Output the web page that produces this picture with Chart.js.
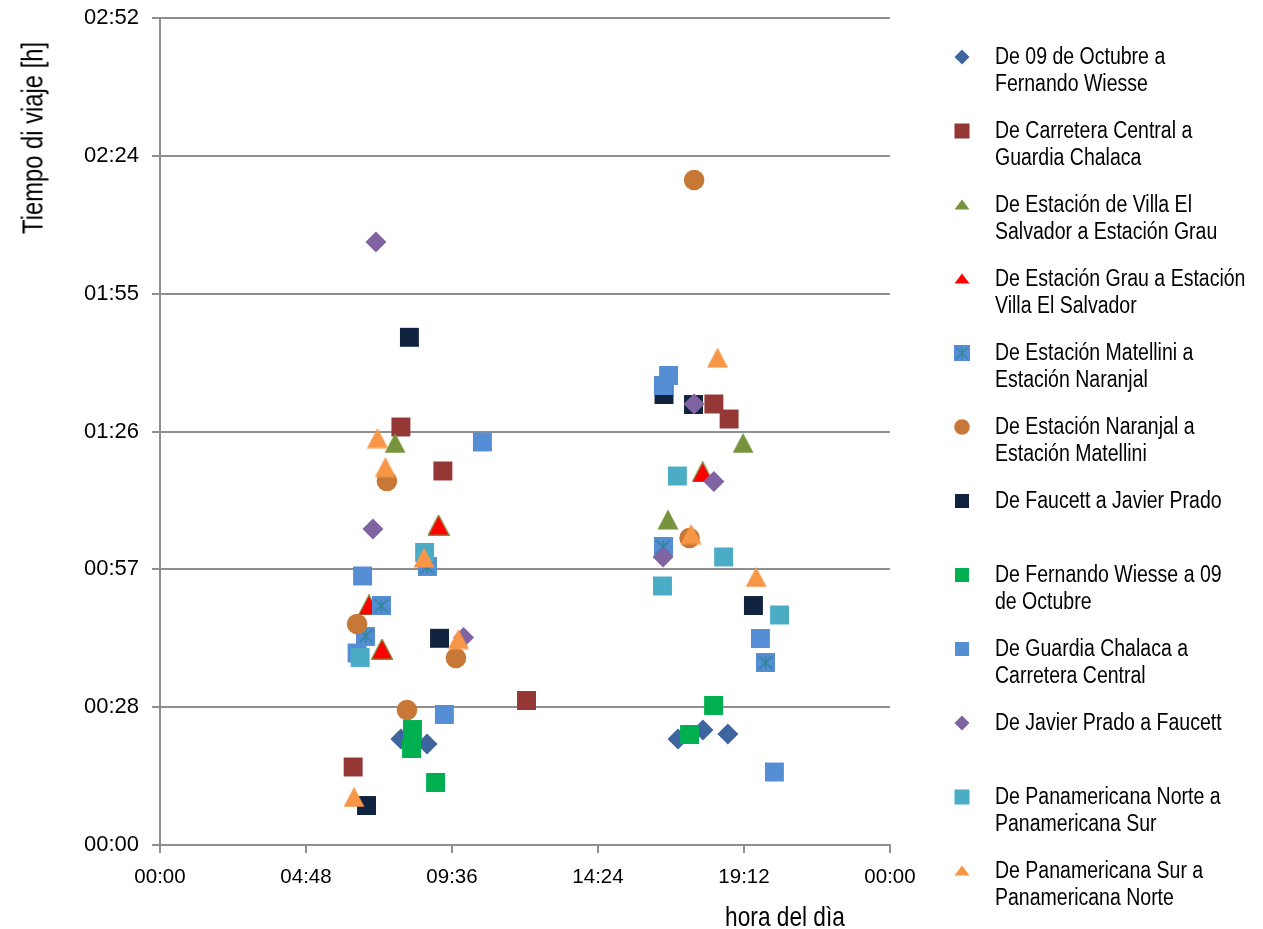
<!DOCTYPE html>
<html>
<head>
<meta charset="utf-8">
<script src="https://cdn.jsdelivr.net/npm/chart.js@4.4.1/dist/chart.umd.min.js"></script>
<style>
html,body{margin:0;padding:0;background:#fff;}
#wrap{position:relative;width:1263px;height:929px;overflow:hidden;background:#fff;}
#chartBox{position:absolute;left:0;top:0;width:1263px;height:929px;}
.anchor{position:absolute;width:0;height:0;}
.anchor span{position:absolute;left:0;top:0;white-space:nowrap;color:#000;
  font-family:"Liberation Sans",Arial,sans-serif;}
#legend .item{position:absolute;left:995px;white-space:pre;color:#000;
  font-family:"Liberation Sans",Arial,sans-serif;
  font-size:23.5px;line-height:27.7px;transform:scaleX(0.83);transform-origin:0 0;}
#legend canvas{position:absolute;}
</style>
</head>
<body>
<div id="wrap">
  <div id="chartBox"><canvas id="c"></canvas></div>
  <div class="anchor" style="left:33px;top:138px;"><span id="ytitle" style="font-size:29px;transform:translate(-50%,-50%) rotate(-90deg) scaleX(0.82);">Tiempo di viaje [h]</span></div>
  <div class="anchor" style="left:785px;top:917px;"><span id="xtitle" style="font-size:28px;transform:translate(-50%,-50%) scaleX(0.81);">hora del dìa</span></div>
  <div id="legend"></div>
</div>
<script>
// ---- DATA (x = time of day in hours, y = travel time in minutes) ----
const seriesNames = [
  "De 09 de Octubre a\nFernando Wiesse",
  "De Carretera Central a\nGuardia Chalaca",
  "De Estación de Villa El\nSalvador a Estación Grau",
  "De Estación Grau a Estación\nVilla El Salvador",
  "De Estación Matellini a\nEstación Naranjal",
  "De Estación Naranjal a\nEstación Matellini",
  "De Faucett a Javier Prado",
  "De Fernando Wiesse a 09\nde Octubre",
  "De Guardia Chalaca a\nCarretera Central",
  "De Javier Prado a Faucett",
  "De Panamericana Norte a\nPanamericana Sur",
  "De Panamericana Sur a\nPanamericana Norte"
];

const octubreFW_x = [7.92, 8.78, 17.03, 17.85, 18.67];
const octubreFW_y = [22.15, 21.10, 22.15, 24.03, 23.19];

const carreteraGC_x = [7.92, 9.30, 12.05, 6.35, 18.21, 18.71];
const carreteraGC_y = [87.34, 78.15, 30.19, 16.30, 92.15, 89.01];

const vesGrau_x = [7.73, 19.17, 16.70];
const vesGrau_y = [84.00, 84.00, 68.01];

const grauVes_x = [9.16, 6.87, 7.30, 17.84];
const grauVes_y = [66.86, 50.15, 40.95, 77.94];

const matelliniNar_x = [8.78, 7.27, 6.77, 16.54, 19.91];
const matelliniNar_y = [58.09, 49.94, 43.67, 62.27, 38.13];

const naranjalMat_x = [7.46, 6.48, 9.73, 8.12, 17.56, 17.41];
const naranjalMat_y = [76.06, 46.18, 39.07, 28.21, 138.95, 64.15];

const faucettJP_x = [8.20, 9.19, 6.79, 16.57, 17.54, 19.51];
const faucettJP_y = [106.08, 43.19, 8.25, 94.13, 92.04, 50.04];

const fernandoOct_x = [8.30, 8.27, 9.06, 18.20, 17.41];
const fernandoOct_y = [24.13, 20.16, 13.06, 29.15, 23.09];

const guardiaCC_x = [10.60, 6.66, 6.48, 9.35, 16.72, 16.55, 19.74, 20.20];
const guardiaCC_y = [84.21, 56.21, 40.12, 27.27, 98.10, 96.01, 43.15, 15.25];

const javierF_x = [7.10, 7.00, 9.98, 17.56, 18.21, 16.54];
const javierF_y = [126.00, 66.03, 43.36, 92.15, 75.95, 60.18];

const panNorteSur_x = [8.70, 6.58, 17.01, 18.53, 16.52, 20.37];
const panNorteSur_y = [61.12, 39.18, 77.10, 60.18, 54.12, 48.06];

const panSurNorte_x = [7.15, 7.41, 8.68, 9.81, 6.38, 18.33, 17.46, 19.60];
const panSurNorte_y = [85.04, 78.98, 60.07, 43.04, 10.03, 101.86, 64.98, 56.00];

const xTickStep = 4.8;    // hours (04:48)
const yTickStep = 28.8;   // minutes (00:28.8)
const xMax = 24, yMax = 172.8;

// ---- helpers ----
const pad = n => String(n).padStart(2, '0');
function mk(w, h, draw) {
  const c = document.createElement('canvas');
  c.width = w; c.height = h;
  draw(c.getContext('2d'), w, h);
  return c;
}
function triangle(w, h, fill, stroke) {
  return mk(w, h, (g) => {
    g.beginPath();
    g.moveTo(w / 2, 0.5); g.lineTo(w - 0.5, h - 0.5); g.lineTo(0.5, h - 0.5); g.closePath();
    g.fillStyle = fill; g.fill();
    if (stroke) { g.lineWidth = 1.2; g.strokeStyle = stroke; g.stroke(); }
  });
}
function starSquare(s, fill, line) {
  return mk(s, s, (g) => {
    g.fillStyle = fill; g.fillRect(0, 0, s, s);
    g.strokeStyle = line; g.lineWidth = Math.max(1.2, s / 12);
    const m = s / 2, a = s * 0.15, b = s * 0.85;
    g.beginPath();
    g.moveTo(m, a); g.lineTo(m, b);
    g.moveTo(a, a); g.lineTo(b, b);
    g.moveTo(b, a); g.lineTo(a, b);
    g.stroke();
  });
}

const C = {
  octubre: '#3F65A0', carretera: '#953735', olive: '#77933C', red: '#FF0000',
  blue: '#558ED5', teal: '#31859C', orange: '#C87836', navy: '#10243F',
  green: '#00B050', purple: '#8064A2', aqua: '#4BACC6', lorange: '#F79646'
};

const triOlive = triangle(22, 21, C.olive);
const triRed = triangle(22, 21, C.red, C.olive);
const triOrange = triangle(22, 21, C.lorange);
const matSq = starSquare(19, C.blue, C.teal);

const specs = [
  { x: octubreFW_x, y: octubreFW_y, style: 'rectRot', r: 10.5, color: C.octubre },
  { x: carreteraGC_x, y: carreteraGC_y, style: 'rect', r: 13.4, color: C.carretera },
  { x: vesGrau_x, y: vesGrau_y, style: triOlive, r: 11, color: C.olive },
  { x: grauVes_x, y: grauVes_y, style: triRed, r: 11, color: C.red },
  { x: matelliniNar_x, y: matelliniNar_y, style: matSq, r: 10, color: C.blue },
  { x: naranjalMat_x, y: naranjalMat_y, style: 'circle', r: 10.3, color: C.orange },
  { x: faucettJP_x, y: faucettJP_y, style: 'rect', r: 13.4, color: C.navy },
  { x: fernandoOct_x, y: fernandoOct_y, style: 'rect', r: 13.4, color: C.green },
  { x: guardiaCC_x, y: guardiaCC_y, style: 'rect', r: 13.4, color: C.blue },
  { x: javierF_x, y: javierF_y, style: 'rectRot', r: 10.5, color: C.purple },
  { x: panNorteSur_x, y: panNorteSur_y, style: 'rect', r: 13.4, color: C.aqua },
  { x: panSurNorte_x, y: panSurNorte_y, style: triOrange, r: 11, color: C.lorange }
];

const N = specs.length;
const datasets = specs.map((s, i) => ({
  label: seriesNames[i].replace('\n', ' '),
  data: s.x.map((v, k) => ({ x: v, y: s.y[k] })),
  pointStyle: s.style,
  pointRadius: s.r,
  pointHoverRadius: s.r,
  backgroundColor: s.color,
  borderColor: s.color,
  pointBorderWidth: 0,
  showLine: false,
  order: N - i
}));

const GRID = '#8f8f8f';
const SANS = '"Liberation Sans", Arial, sans-serif';

new Chart(document.getElementById('c'), {
  type: 'scatter',
  data: { datasets },
  options: {
    responsive: true,
    maintainAspectRatio: false,
    animation: false,
    devicePixelRatio: 1,
    layout: { padding: { left: 0, top: 18, right: 373, bottom: 0 } },
    plugins: { legend: { display: false }, tooltip: { enabled: false } },
    events: [],
    scales: {
      x: {
        type: 'linear', position: 'bottom', min: 0, max: xMax,
        afterFit: (s) => { s.height = 84; s.paddingLeft = 0; s.paddingRight = 0; },
        ticks: {
          stepSize: xTickStep, autoSkip: false, maxRotation: 0, minRotation: 0,
          padding: 12, color: '#000',
          font: { family: SANS, size: 20.5 },
          callback: (v) => { const t = Math.round(v * 60) % 1440; return pad(Math.floor(t / 60)) + ':' + pad(t % 60); }
        },
        grid: { drawOnChartArea: false, drawTicks: true, tickLength: 8, color: GRID, lineWidth: 2 },
        border: { display: true, color: GRID, width: 2 }
      },
      y: {
        type: 'linear', min: 0, max: yMax,
        afterFit: (s) => { s.width = 160; s.paddingTop = 0; s.paddingBottom = 0; },
        ticks: {
          stepSize: yTickStep, padding: 13, color: '#000',
          font: { family: SANS, size: 22 },
          callback: (v) => { const m = Math.floor(v + 1e-6); return pad(Math.floor(m / 60)) + ':' + pad(m % 60); }
        },
        grid: { drawOnChartArea: true, drawTicks: true, tickLength: 8, color: GRID, lineWidth: 2 },
        border: { display: true, color: GRID, width: 2 }
      }
    }
  }
});

// ---- HTML legend ----
const legend = document.getElementById('legend');
const legIcons = [
  mk(16, 16, g => { g.fillStyle = C.octubre; g.beginPath(); g.moveTo(8, 0.5); g.lineTo(15.5, 8); g.lineTo(8, 15.5); g.lineTo(0.5, 8); g.closePath(); g.fill(); }),
  mk(16, 16, g => { g.fillStyle = C.carretera; g.fillRect(0.5, 0.5, 15, 15); }),
  triangle(16, 11, C.olive),
  triangle(16, 11, C.red),
  starSquare(16, C.blue, C.teal),
  mk(16, 16, g => { g.fillStyle = C.orange; g.beginPath(); g.arc(8, 8, 7.8, 0, Math.PI * 2); g.fill(); }),
  mk(16, 16, g => { g.fillStyle = C.navy; g.fillRect(1, 1, 14, 14); }),
  mk(16, 16, g => { g.fillStyle = C.green; g.fillRect(1, 1, 14, 14); }),
  mk(16, 16, g => { g.fillStyle = C.blue; g.fillRect(1, 1, 14, 14); }),
  mk(16, 16, g => { g.fillStyle = C.purple; g.beginPath(); g.moveTo(8, 0.5); g.lineTo(15.5, 8); g.lineTo(8, 15.5); g.lineTo(0.5, 8); g.closePath(); g.fill(); }),
  mk(16, 16, g => { g.fillStyle = C.aqua; g.fillRect(0.5, 0.5, 15, 15); }),
  triangle(16, 11, C.lorange)
];
seriesNames.forEach((name, i) => {
  const cy = 56.7 + 74 * i;
  const icon = legIcons[i];
  icon.style.left = (962 - icon.width / 2) + 'px';
  icon.style.top = (cy - icon.height / 2) + 'px';
  legend.appendChild(icon);
  const d = document.createElement('div');
  d.className = 'item';
  d.style.top = (cy - 14) + 'px';
  d.textContent = name;
  legend.appendChild(d);
});
</script>
</body>
</html>
